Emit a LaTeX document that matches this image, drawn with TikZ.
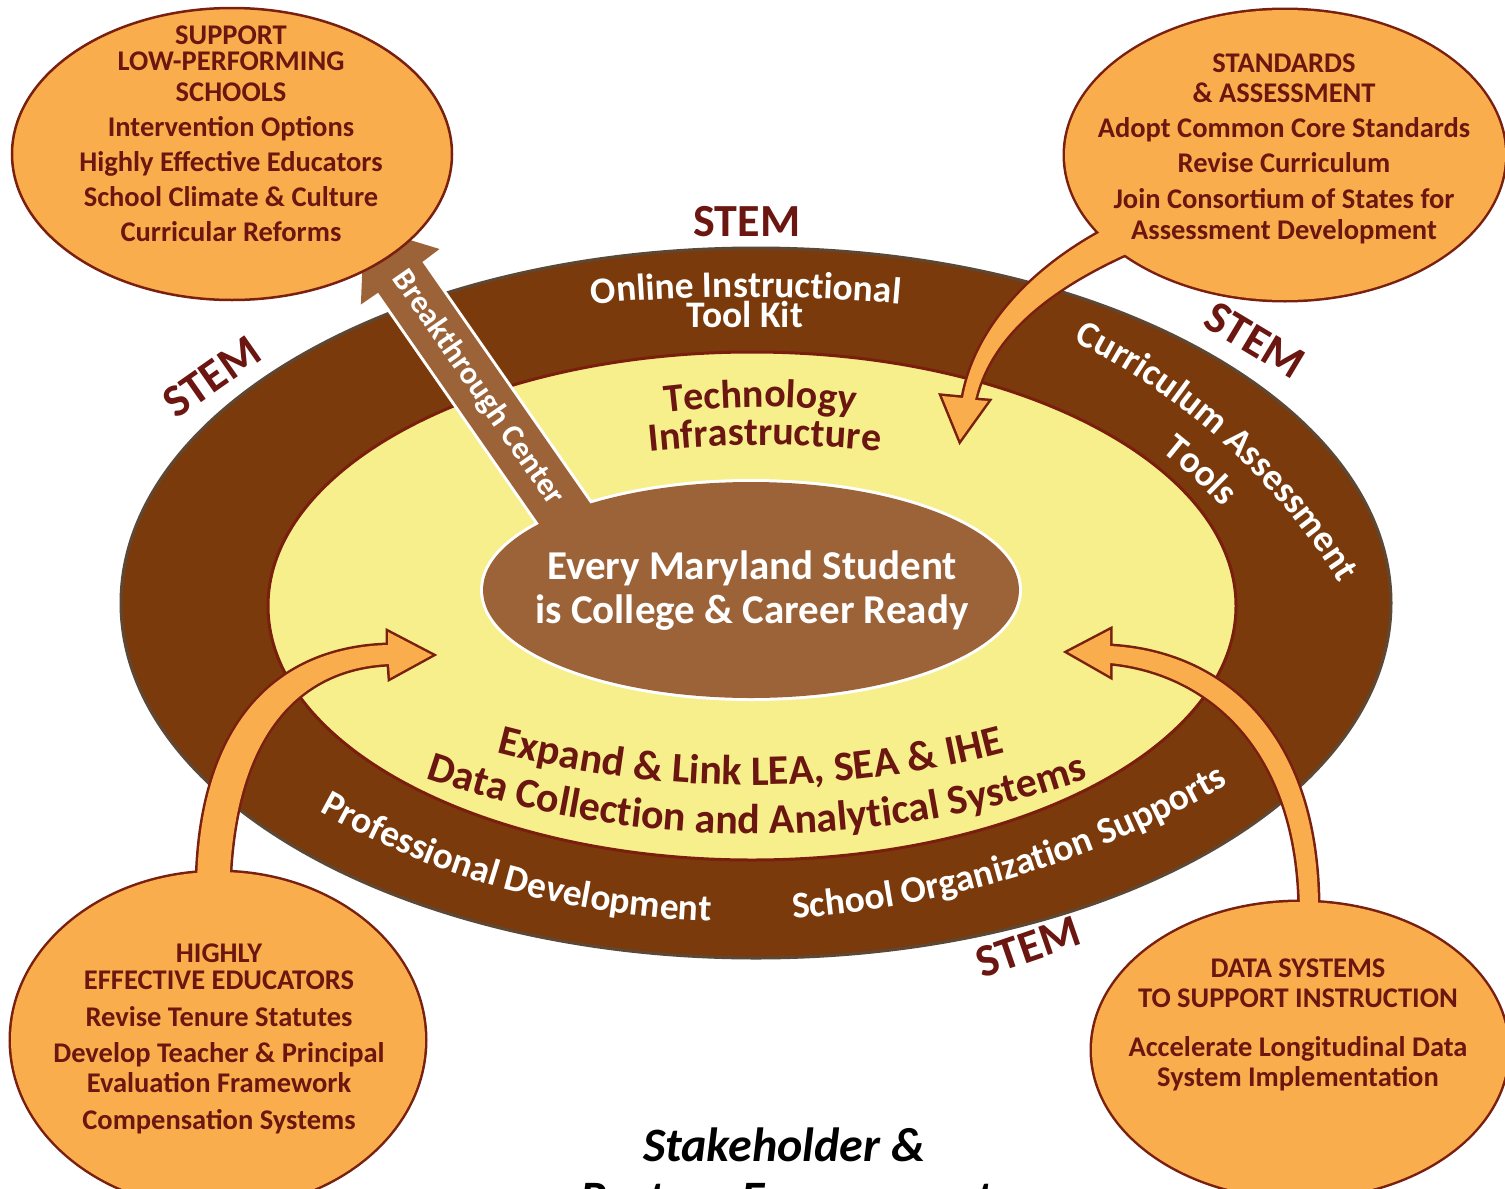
\documentclass[tikz,border=0pt]{standalone}
\usepackage{fontspec}
\setmainfont{Carlito}
\usetikzlibrary{decorations.text}
\definecolor{ringbrown}{RGB}{122,58,12}
\definecolor{ringedge}{RGB}{92,72,52}
\definecolor{yel}{RGB}{246,239,140}
\definecolor{yeledge}{RGB}{122,30,14}
\definecolor{cbrown}{RGB}{156,99,57}
\definecolor{orng}{RGB}{249,173,76}
\definecolor{orngedge}{RGB}{122,32,16}
\definecolor{dred}{RGB}{107,22,16}
\newcommand\ofont{\fontsize{28.5}{30}\selectfont\bfseries}
\newcommand\ringfont{\fontsize{37.5}{37.5}\selectfont\bfseries\color{white}}
\newcommand\yfont{\fontsize{40}{40}\selectfont\bfseries\color{dred}}
\newcommand\ybfont{\fontsize{42}{42}\selectfont\bfseries\color{dred}}
\tikzset{
  otext/.style={font=\ofont, text=dred, anchor=base, inner sep=0pt},
  stemlbl/.style={font=\fontsize{46}{46}\selectfont\bfseries, text=dred, inner sep=0pt},
  ctext/.style={font=\fontsize{41}{41}\selectfont\bfseries, text=white, anchor=base, inner sep=0pt},
  ringnode/.style={font=\ringfont, inner sep=0pt},
}
\begin{document}
\begin{tikzpicture}[x=1pt,y=-1pt]
\useasboundingbox (0,0) rectangle (1505,1189);
\clip (0,0) rectangle (1505,1189);
\fill[white] (0,0) rectangle (1505,1189);

% ring and yellow field
\draw[ringedge, line width=3pt, fill=ringbrown] (756,603) ellipse [x radius=635pt, y radius=355pt];
\draw[yeledge, line width=3pt, fill=yel] (752,606) ellipse [x radius=484pt, y radius=254pt];

% centre ellipse and Breakthrough arrow
\coordinate (bt) at (364,226);
\coordinate (br) at (439.5,249);
\coordinate (bsr) at (422.3,262);
\coordinate (ber) at (599,516);
\coordinate (bel) at (554.8,546.7);
\coordinate (bsl) at (378.1,292.6);
\coordinate (bl) at (360.9,304.5);
\draw[white, line width=6pt] (bt) -- (br) -- (bsr) -- (ber) -- (bel) -- (bsl) -- (bl) -- cycle;
\draw[white, line width=6pt] (751,590) ellipse [x radius=268pt, y radius=108pt];
\fill[cbrown] (bt) -- (br) -- (bsr) -- (ber) -- (bel) -- (bsl) -- (bl) -- cycle;
\fill[cbrown] (751,590) ellipse [x radius=268pt, y radius=108pt];
\node[font=\fontsize{32}{32}\selectfont\bfseries, text=white, rotate=-55.2, inner sep=0pt] (btxt) at (478,388) {Breakthrough Center};

\node[ctext] (c1) at (752,579) {Every Maryland Student};
\node[ctext] (c2) at (752,623) {is College \& Career Ready};

% ring texts
\path[decorate, decoration={text along path, text align=center, text={|\ringfont|Online Instructional}}]
  plot[domain=-102:-78, samples=40] ({746+1700*cos(\x)},{1997+1700*sin(\x)});
\node[ringnode, anchor=base] (toolkit) at (745,327) {Tool Kit};
\path[decorate, decoration={text along path, text align=center, text={|\ringfont|Curriculum Assessment}}]
  plot[domain=-72.7:-22.7, samples=60] ({780+659*cos(\x)},{931+659*sin(\x)});
\path[decorate, decoration={text along path, text align=center, text={|\ringfont|Tools}}]
  plot[domain=-62.6:-32.6, samples=40] ({780+613*cos(\x)},{931+613*sin(\x)});
\path[decorate, decoration={text along path, text align=center, text={|\ringfont|Professional Development}}]
  plot[domain=125.6:85.6, samples=60] ({737+850*cos(\x)},{71.6+850*sin(\x)});
\path[decorate, decoration={text along path, text align=center, text={|\ringfont|School Organization Supports}}]
  plot[domain=92.85:52.85, samples=60] ({720.7+1010*cos(\x)},{-88.9+1010*sin(\x)});

% yellow texts
\path[decorate, decoration={text along path, text align=center, text={|\yfont|Technology}}]
  plot[domain=-105:-75, samples=40] ({760+750*cos(\x)},{1157+750*sin(\x)});
\path[decorate, decoration={text along path, text align=center, text={|\yfont|Infrastructure}}]
  plot[domain=-102:-78, samples=40] ({765+1100*cos(\x)},{1545+1100*sin(\x)});
\path[decorate, decoration={text along path, text align=center, text={|\ybfont|Expand {\&} Link LEA{,} SEA {\&} IHE}}]
  plot[domain=110:70, samples=60] ({751+1015*cos(\x)},{-230+1015*sin(\x)});
\path[decorate, decoration={text along path, text align=center, text={|\ybfont|Data Collection and Analytical Systems}}]
  plot[domain=115:65, samples=70] ({757+1023*cos(\x)},{-189+1023*sin(\x)});

% STEM labels
\node[stemlbl] (stemT) at (747,222) {STEM};
\node[stemlbl, rotate=35] (stemL) at (212,377) {STEM};
\node[stemlbl, rotate=-31] (stemR) at (1255,340) {STEM};
\node[stemlbl, rotate=19] (stemB) at (1028,947) {STEM};

% orange bubbles
\draw[orngedge, line width=2.5pt, fill=orng] (232,154) ellipse [x radius=220pt, y radius=146pt];

% top right with tail
\draw[orngedge, line width=5pt] (1112,226) .. controls (1030,268) and (975,330) .. (963,398) -- (942,396) -- (960,440) -- (988,401) -- (975,400) .. controls (990,335) and (1050,287) .. (1135,250) -- cycle;
\draw[orngedge, line width=5pt] (1285,155) ellipse [x radius=220pt, y radius=145pt];
\fill[orng] (1112,226) .. controls (1030,268) and (975,330) .. (963,398) -- (942,396) -- (960,440) -- (988,401) -- (975,400) .. controls (990,335) and (1050,287) .. (1135,250) -- cycle;
\fill[orng] (1285,155) ellipse [x radius=220pt, y radius=145pt];

% bottom left with tail
\draw[orngedge, line width=5pt] (197,900) .. controls (195,720) and (280,648) .. (388,645) -- (388,632) -- (432,655) -- (390,678) -- (389,664) .. controls (295,668) and (230,740) .. (229,900) -- cycle;
\draw[orngedge, line width=5pt] (218,1040) ellipse [x radius=207pt, y radius=168pt];
\fill[orng] (197,900) .. controls (195,720) and (280,648) .. (388,645) -- (388,632) -- (432,655) -- (390,678) -- (389,664) .. controls (295,668) and (230,740) .. (229,900) -- cycle;
\fill[orng] (218,1040) ellipse [x radius=207pt, y radius=168pt];

% bottom right with tail
\draw[orngedge, line width=5pt] (1318,915) .. controls (1320,730) and (1220,652) .. (1110,646) -- (1110,630) -- (1068,652) -- (1110,676) -- (1110,663) .. controls (1205,672) and (1300,745) .. (1300,915) -- cycle;
\draw[orngedge, line width=5pt] (1300,1050) ellipse [x radius=208pt, y radius=148pt];
\fill[orng] (1318,915) .. controls (1320,730) and (1220,652) .. (1110,646) -- (1110,630) -- (1068,652) -- (1110,676) -- (1110,663) .. controls (1205,672) and (1300,745) .. (1300,915) -- cycle;
\fill[orng] (1300,1050) ellipse [x radius=208pt, y radius=148pt];

% bubble texts
\foreach \y/\t [count=\i] in {44/SUPPORT, 70/LOW-PERFORMING, 101/SCHOOLS, 136/Intervention Options, 171/Highly Effective Educators, 206/School Climate \& Culture, 241/Curricular Reforms}
  \node[otext] (tl\i) at (231,\y) {\t};
\foreach \y/\t [count=\i] in {72/STANDARDS, 102/\& ASSESSMENT, 137/Adopt Common Core Standards, 172/Revise Curriculum, 208/Join Consortium of States for, 239/Assessment Development}
  \node[otext] (tr\i) at (1284,\y) {\t};
\foreach \y/\t [count=\i] in {962/HIGHLY, 989/EFFECTIVE EDUCATORS, 1026/Revise Tenure Statutes, 1062/Develop Teacher \& Principal, 1092/Evaluation Framework, 1129/Compensation Systems}
  \node[otext] (bl\i) at (219,\y) {\t};
\foreach \y/\t [count=\i] in {977/DATA SYSTEMS, 1007/TO SUPPORT INSTRUCTION, 1056/Accelerate Longitudinal Data, 1086/System Implementation}
  \node[otext] (br\i) at (1298,\y) {\t};

% title
\node[font=\fontsize{48}{48}\selectfont\bfseries\itshape, anchor=base, inner sep=0pt] (title1) at (784,1161) {Stakeholder \&};
\node[font=\fontsize{48}{48}\selectfont\bfseries\itshape, anchor=base, inner sep=0pt] (title2) at (787,1214) {Partner Engagement};
\end{tikzpicture}
\end{document}
